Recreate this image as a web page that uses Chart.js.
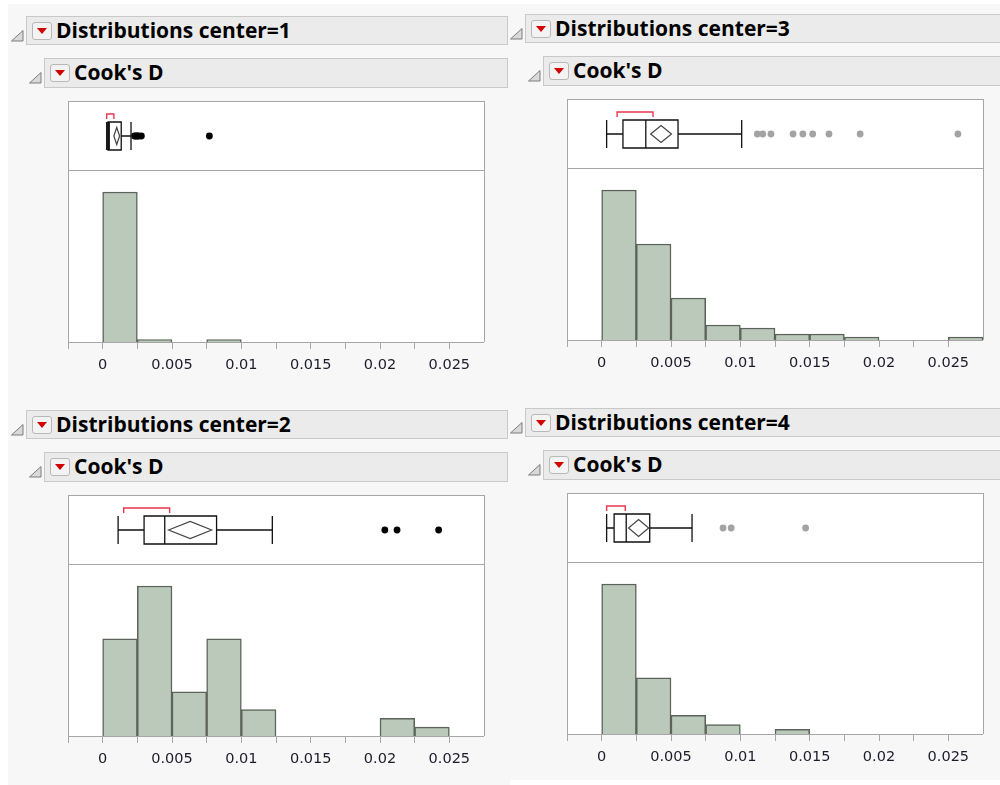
<!DOCTYPE html>
<html>
<head>
<meta charset="utf-8">
<script src="https://cdn.jsdelivr.net/npm/chart.js@4.4.1/dist/chart.umd.min.js"></script>
<style>
html, body { margin: 0; padding: 0; }
body { width: 1000px; height: 785px; overflow: hidden; position: relative; background: #f7f7f7; font-family: "Open Sans", sans-serif; }
.strip { position: absolute; background: #fff; }
.hdr { position: absolute; box-sizing: border-box; background: #ebebeb; border: 1px solid #c9c9c9; }
.title { position: absolute; font-weight: 700; font-size: 21px; color: #000; white-space: nowrap; line-height: 24px; }
.btn { position: absolute; box-sizing: border-box; width: 20px; height: 18px; border: 1px solid #b8b8b8; border-radius: 3px; background: #f3f3f3; }
.btn:after { content: ""; position: absolute; left: 4px; top: 5px; border-left: 5px solid transparent; border-right: 5px solid transparent; border-top: 6px solid #d30000; }
.tri { position: absolute; }
.frame { position: absolute; box-sizing: border-box; background: #fff; border: 1px solid #a6a6a6; border-bottom: none; }
.divider { position: absolute; height: 1px; background: #a6a6a6; }
canvas { position: absolute; display: block; }
</style>
</head>
<body>
<div class="strip" style="left:0;top:0;width:1000px;height:4px"></div>
<div class="strip" style="left:0;top:0;width:8px;height:785px"></div>
<div class="strip" style="left:510px;top:780px;width:490px;height:5px"></div>
<script>
// histogram bins (left edges), width 0.0025
var binStarts = [0, 0.0025, 0.005, 0.0075, 0.01, 0.0125, 0.015, 0.0175, 0.02, 0.0225, 0.025];
var binWidth = 0.0025;
var xMin = -0.0025;
var xMax = 0.0275;

// counts per bin, one list per center
var counts1 = [65, 1, 0, 1, 0, 0, 0, 0, 0, 0, 0];
var counts2 = [11, 17, 5, 11, 3, 0, 0, 0, 2, 1, 0];
var counts3 = [50, 32, 14, 5, 4, 2, 2, 1, 0, 0, 1];
var counts4 = [32, 12, 4, 2, 0, 1, 0, 0, 0, 0, 0];

// box: whisker low, Q1, median, Q3, whisker high
var box1 = [0.00005, 0.00015, 0.00024, 0.00112, 0.00184];
var box2 = [0.00089, 0.0028, 0.00432, 0.00813, 0.01223];
var box3 = [0.00012, 0.00132, 0.0030, 0.00537, 0.01005];
var box4 = [0.00012, 0.00067, 0.00156, 0.00329, 0.0064];

// mean diamond: mean, lower 95%, upper 95%
var mean1 = [0.00079, 0.00058, 0.0010];
var mean2 = [0.00619, 0.0046, 0.00777];
var mean3 = [0.00412, 0.00336, 0.00489];
var mean4 = [0.00247, 0.00173, 0.00321];

// shortest half bracket
var short1 = [0.00005, 0.00058];
var short2 = [0.0013, 0.00468];
var short3 = [0.00089, 0.00353];
var short4 = [0.00012, 0.00149];

// outliers
var out1 = [0.0021, 0.0022, 0.0023, 0.0024, 0.0026, 0.0076];
var out2 = [0.0205, 0.0214, 0.02446];
var out3 = [0.0112, 0.0116, 0.0122, 0.01383, 0.01455, 0.01527, 0.01647, 0.01876, 0.02595];
var out4 = [0.00868, 0.00928, 0.01475];

var panels = [
    { center: 1, counts: counts1, box: box1, mean: mean1, half: short1, out: out1, dot: "#000", dx: 0, dy: 0 },
    { center: 3, counts: counts3, box: box3, mean: mean3, half: short3, out: out3, dot: "#a3a3a3", dx: 499, dy: -2 },
    { center: 2, counts: counts2, box: box2, mean: mean2, half: short2, out: out2, dot: "#000", dx: 0, dy: 394 },
    { center: 4, counts: counts4, box: box4, mean: mean4, half: short4, out: out4, dot: "#a3a3a3", dx: 499, dy: 392 }
];

var boxPlugin = {
    id: "boxplot",
    afterDatasetsDraw: function(chart, args, o) {
        var ctx = chart.ctx;
        var a = chart.chartArea;
        var x = chart.scales.x;
        var px = function(v) { return x.getPixelForValue(v); };
        var yc = chart.scales.y.getPixelForValue(0);
        var b = o.box;
        ctx.save();
        ctx.strokeStyle = "#111";
        ctx.lineWidth = 1.3;
        ctx.beginPath();
        ctx.moveTo(px(b[0]), yc); ctx.lineTo(px(b[1]), yc);
        ctx.moveTo(px(b[3]), yc); ctx.lineTo(px(b[4]), yc);
        ctx.moveTo(px(b[0]), yc - 14); ctx.lineTo(px(b[0]), yc + 14);
        ctx.moveTo(px(b[4]), yc - 14); ctx.lineTo(px(b[4]), yc + 14);
        ctx.moveTo(px(b[2]), yc - 14); ctx.lineTo(px(b[2]), yc + 14);
        ctx.rect(px(b[1]), yc - 14, px(b[3]) - px(b[1]), 28);
        ctx.stroke();
        // mean diamond
        var m = o.mean;
        ctx.strokeStyle = "#444";
        ctx.lineWidth = 1.2;
        ctx.beginPath();
        ctx.moveTo(px(m[1]), yc);
        ctx.lineTo(px(m[0]), yc - 8.5);
        ctx.lineTo(px(m[2]), yc);
        ctx.lineTo(px(m[0]), yc + 8.5);
        ctx.closePath();
        ctx.stroke();
        // shortest half
        var h = o.half;
        ctx.strokeStyle = "#e8364e";
        ctx.lineWidth = 1.4;
        ctx.beginPath();
        ctx.moveTo(px(h[0]), a.top + 13);
        ctx.lineTo(px(h[0]), a.top + 8);
        ctx.lineTo(px(h[1]), a.top + 8);
        ctx.lineTo(px(h[1]), a.top + 13);
        ctx.stroke();
        ctx.restore();
    }
};

function el(cls, x, y, w, h, html) {
    var d = document.createElement("div");
    d.className = cls;
    d.style.left = x + "px";
    d.style.top = y + "px";
    if (w != null) d.style.width = w + "px";
    if (h != null) d.style.height = h + "px";
    if (html) d.innerHTML = html;
    document.body.appendChild(d);
    return d;
}

function tri(x, y) {
    var d = el("tri", x, y, 14, 12);
    d.innerHTML = '<svg width="14" height="12"><polygon points="1.5,11 13,11 13,0.5" fill="#d9d9d9" stroke="#7c7c7c" stroke-width="1"/></svg>';
}

function header(x, y, w, h, text) {
    el("hdr", x, y, w, h);
    tri(x - 16, y + 9);
    el("btn", x + 6, y + 6);
    var t = el("title", x + 30, y + Math.round(h / 2) - 13, null, null);
    t.textContent = text;
}

function tickLabel(value) {
    var n = Math.round(value / binWidth);
    if (n < 0 || n % 2 !== 0) return "";
    return String(+value.toFixed(4));
}

panels.forEach(function(p) {
    var dx = p.dx, dy = p.dy;
    header(26 + dx, 16 + dy, 482, 29, "Distributions center=" + p.center);
    header(44 + dx, 58 + dy, 464, 30, "Cook's D");

    el("frame", 68 + dx, 101 + dy, 417, 241);
    el("divider", 68 + dx, 170 + dy, 417, 1);

    var c1 = document.createElement("canvas");
    c1.width = 416; c1.height = 68;
    c1.style.left = (68 + dx) + "px";
    c1.style.top = (102 + dy) + "px";
    document.body.appendChild(c1);

    var c2 = document.createElement("canvas");
    c2.width = 416; c2.height = 215;
    c2.style.left = (68 + dx) + "px";
    c2.style.top = (171 + dy) + "px";
    document.body.appendChild(c2);

    new Chart(c1, {
        type: "scatter",
        data: {
            datasets: [{
                data: p.out.map(function(v) { return { x: v, y: 0 }; }),
                pointRadius: 3.4,
                pointBackgroundColor: p.dot,
                pointBorderWidth: 0
            }]
        },
        options: {
            responsive: false,
            animation: false,
            events: [],
            layout: { padding: 0 },
            plugins: {
                legend: { display: false },
                tooltip: { enabled: false },
                boxplot: { box: p.box, mean: p.mean, half: p.half }
            },
            scales: {
                x: { type: "linear", min: xMin, max: xMax, display: false },
                y: { min: -1, max: 1, display: false }
            }
        },
        plugins: [boxPlugin]
    });

    new Chart(c2, {
        type: "bar",
        data: {
            datasets: [{
                data: binStarts.map(function(b, i) { return { x: b + binWidth / 2, y: p.counts[i] }; }),
                backgroundColor: "#bac9ba",
                borderColor: "#5b635b",
                borderWidth: 1.5,
                barPercentage: 1,
                categoryPercentage: 1
            }]
        },
        options: {
            responsive: false,
            animation: false,
            events: [],
            layout: { padding: 0 },
            plugins: { legend: { display: false }, tooltip: { enabled: false } },
            scales: {
                x: {
                    type: "linear",
                    min: xMin,
                    max: xMax,
                    offset: false,
                    afterFit: function(s) {
                        s.height = 44;
                        s.paddingLeft = 0;
                        s.paddingRight = 0;
                    },
                    grid: { offset: false, drawOnChartArea: false, drawTicks: true, tickLength: 7, color: "#a6a6a6" },
                    border: { display: true, color: "#a6a6a6", width: 1 },
                    ticks: {
                        stepSize: binWidth,
                        autoSkip: false,
                        maxRotation: 0,
                        padding: 8,
                        color: "#1c1c2c",
                        font: { family: "DejaVu Sans", size: 14.5 },
                        callback: tickLabel
                    }
                },
                y: { display: false, min: 0, max: Math.max.apply(null, p.counts) * 1.14 }
            }
        }
    });
});
</script>
</body>
</html>
